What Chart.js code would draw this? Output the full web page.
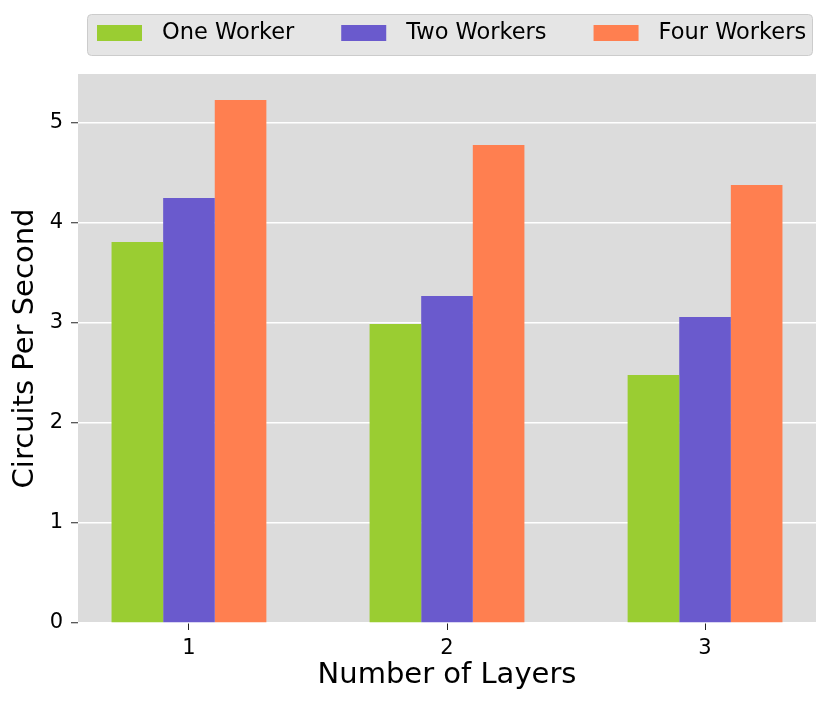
<!DOCTYPE html>
<html>
<head>
<meta charset="utf-8">
<script src="https://cdn.jsdelivr.net/npm/chart.js@4/dist/chart.umd.min.js"></script>
<style>
  body { margin: 0; background: #fff; }
  #wrap { width: 831px; height: 709px; }
</style>
</head>
<body>
<div id="wrap"><canvas id="chart"></canvas></div>
<script>
// values
var layers = [1, 2, 3];
var oneWorker = [3.81, 2.99, 2.48];
var twoWorkers = [4.25, 3.27, 3.06];
var fourWorkers = [5.23, 4.78, 4.38];
var yTicks = [0, 1, 2, 3, 4, 5];

function points(vals) {
    return layers.map(function (l, i) { return { x: l, y: vals[i] }; });
}

// grey plot background
var plotBg = {
    id: 'plotBg',
    beforeDraw: function (chart) {
        var a = chart.chartArea, c = chart.ctx;
        c.save();
        c.fillStyle = '#dcdcdc';
        c.fillRect(a.left, a.top, a.right - a.left, a.bottom - a.top);
        c.restore();
    }
};

// matplotlib style legend box above the plot
var boxLegend = {
    id: 'boxLegend',
    afterDraw: function (chart) {
        var a = chart.chartArea, c = chart.ctx;
        var left = a.left + 9, right = a.right - 4, top = 14, bottom = 55;
        c.save();
        c.beginPath();
        c.roundRect(left + 0.5, top + 0.5, right - left, bottom - top, 4);
        c.fillStyle = '#e5e5e5';
        c.fill();
        c.strokeStyle = '#cccccc';
        c.lineWidth = 1;
        c.stroke();
        c.font = '22.5px "DejaVu Sans"';
        c.textBaseline = 'middle';
        var x = left + 10;
        chart.data.datasets.forEach(function (ds) {
            c.fillStyle = ds.backgroundColor;
            c.fillRect(x, 25, 45, 16);
            c.fillStyle = '#000';
            c.fillText(ds.label, x + 65, 33);
            x += 65 + c.measureText(ds.label).width + 47;
        });
        c.restore();
    }
};

var ctx = document.getElementById('chart').getContext('2d');

new Chart(ctx, {
    type: 'bar',
    data: {
        datasets: [{
            label: 'One Worker',
            data: points(oneWorker),
            backgroundColor: '#9acd32'
        },
        {
            label: 'Two Workers',
            data: points(twoWorkers),
            backgroundColor: '#6a5acd'
        },
        {
            label: 'Four Workers',
            data: points(fourWorkers),
            backgroundColor: '#ff7f50'
        }]
    },
    options: {
        responsive: true,
        maintainAspectRatio: false,
        animation: false,
        layout: { padding: { top: 74, right: 15, left: 0, bottom: 0 } },
        datasets: { bar: { categoryPercentage: 0.6, barPercentage: 1 } },
        plugins: {
            legend: { display: false },
            tooltip: { enabled: false }
        },
        scales: {
            x: {
                type: 'linear',
                offset: false,
                min: 0.57,
                max: 3.43,
                afterBuildTicks: function (s) {
                    s.ticks = layers.map(function (v) { return { value: v }; });
                },
                afterFit: function (s) { s.height = 86; },
                border: { display: false },
                grid: { offset: false, drawOnChartArea: false, drawTicks: true, tickLength: 7, tickColor: '#222', tickWidth: 1 },
                ticks: {
                    color: '#000',
                    padding: 6,
                    font: { family: 'DejaVu Sans', size: 21 },
                    callback: function (v) { return String(v); }
                },
                title: {
                    display: true,
                    text: 'Number of Layers',
                    color: '#000',
                    font: { family: 'DejaVu Sans', size: 29 },
                    padding: { top: 0, bottom: 16 }
                }
            },
            y: {
                min: 0,
                max: 5.49,
                afterBuildTicks: function (s) {
                    s.ticks = yTicks.map(function (v) { return { value: v }; });
                },
                afterFit: function (s) { s.width = 78; },
                border: { display: false },
                grid: { color: '#ffffff', lineWidth: 1.5, drawTicks: true, tickLength: 7, tickColor: '#222', tickWidth: 1 },
                ticks: {
                    color: '#000',
                    padding: 8,
                    font: { family: 'DejaVu Sans', size: 21 }
                },
                title: {
                    display: true,
                    text: 'Circuits Per Second',
                    color: '#000',
                    font: { family: 'DejaVu Sans', size: 29 },
                    padding: { top: 8, bottom: 0 }
                }
            }
        }
    },
    plugins: [plotBg, boxLegend]
});
</script>
</body>
</html>
